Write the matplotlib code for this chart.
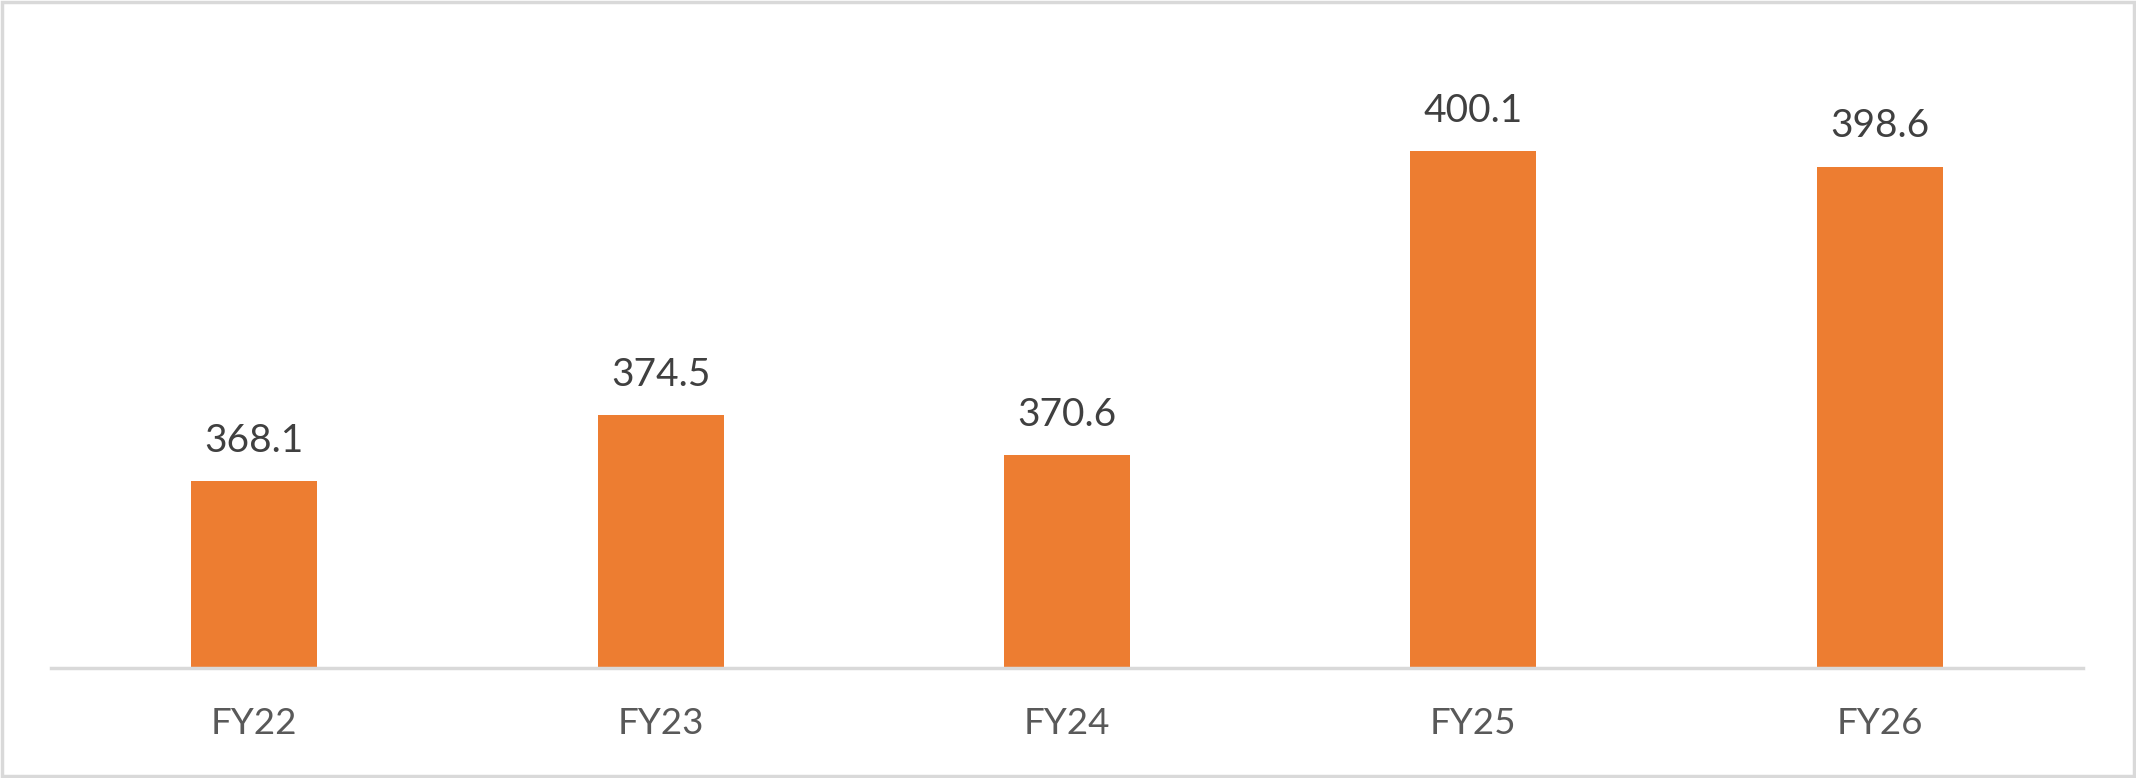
import matplotlib
matplotlib.use("Agg")
import matplotlib.pyplot as plt
from matplotlib.patches import Rectangle

# data
years = ["FY22", "FY23", "FY24", "FY25", "FY26"]
values = [368.1, 374.5, 370.6, 400.1, 398.6]

plt.rcParams['font.family'] = ['Lato', 'DejaVu Sans']

fig = plt.figure(figsize=(21.36, 7.78), dpi=100)
ax = fig.add_axes([51 / 2136, 1 - 668 / 778, (2083 - 51) / 2136, (668 - 49) / 778])

x = list(range(len(years)))
bars = ax.bar(x, values, width=0.31, color="#ED7D31", zorder=2)

ax.set_xlim(-0.5, len(years) - 0.5)
ax.set_ylim(350, 410)

for rect, v in zip(bars, values):
    ax.annotate(f"{v:.1f}", (rect.get_x() + rect.get_width() / 2, v),
                xytext=(0, 16), textcoords="offset points",
                ha="center", va="bottom", fontsize=28, color="#404040")

ax.set_xticks(x)
ax.set_xticklabels(years, fontsize=26.5, color="#595959")
ax.tick_params(axis="x", length=0, pad=28)
ax.set_yticks([])

for side in ["top", "right", "left"]:
    ax.spines[side].set_visible(False)
ax.spines["bottom"].set_color("#D9D9D9")
ax.spines["bottom"].set_linewidth(2.5)
ax.spines["bottom"].set_zorder(3)

# chart border
fig.patches.append(Rectangle((0.001, 0.002), 0.998, 0.996, transform=fig.transFigure,
                             fill=False, edgecolor="#D9D9D9", linewidth=2.5))

fig.savefig("out.png", dpi=100, facecolor="white")
